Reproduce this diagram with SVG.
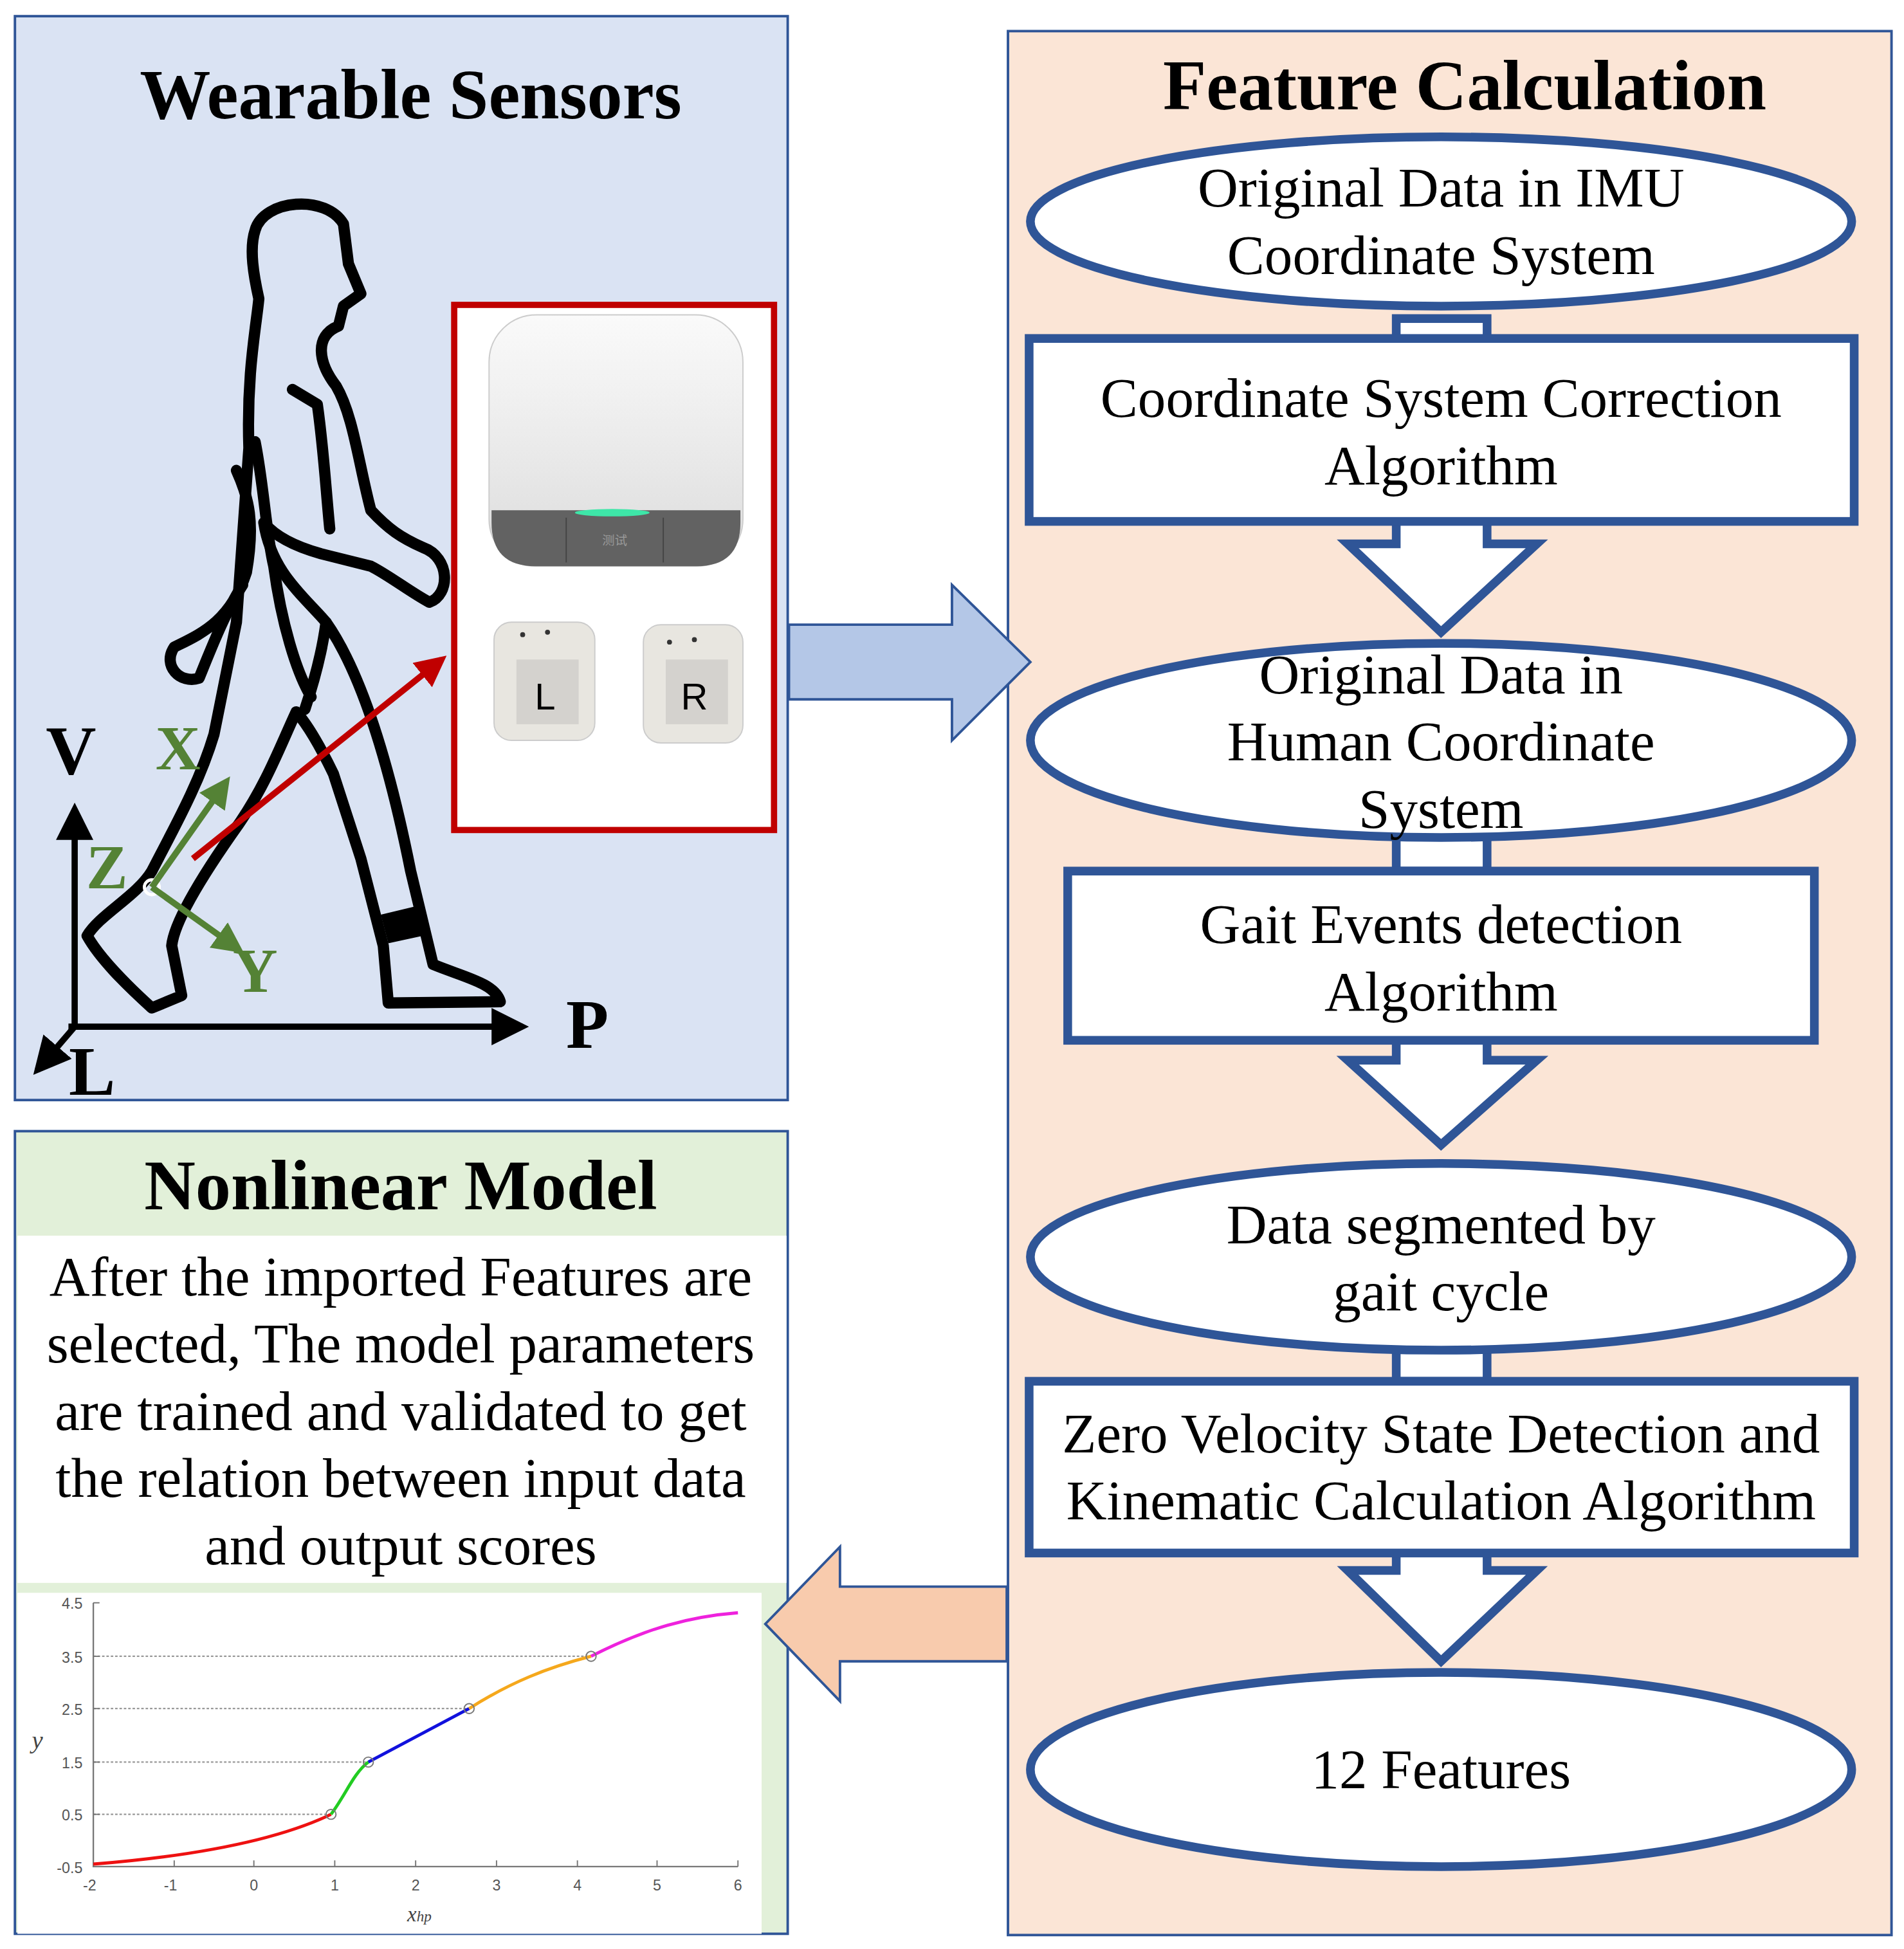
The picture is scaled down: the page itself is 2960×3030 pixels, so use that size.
<svg xmlns="http://www.w3.org/2000/svg" width="2960" height="3030" viewBox="0 0 2960 3030">
<defs>
<style>
.t{font-family:"Liberation Serif","Times New Roman",serif;fill:#000;text-anchor:middle}
.h{font-weight:bold;font-size:57px}
.b{font-size:45px}
.n{font-size:45px}
.fl{fill:#fff;stroke:#2f5597;stroke-width:7}
.ax{font-family:"Liberation Sans",Arial,sans-serif;font-size:12px;fill:#555;text-anchor:middle}
.grid{stroke:#999;stroke-width:1.2;stroke-dasharray:2 1.5}
</style>
<marker id="ab" markerWidth="6" markerHeight="6" refX="5" refY="3" orient="auto" markerUnits="strokeWidth"><path d="M0,0 L6,3 L0,6 z" fill="#000"/></marker>
<marker id="ag" markerWidth="5" markerHeight="5" refX="4" refY="2.5" orient="auto" markerUnits="strokeWidth"><path d="M0,0 L5,2.5 L0,5 z" fill="#548235"/></marker>
<marker id="ar" markerWidth="5" markerHeight="5" refX="4" refY="2.5" orient="auto" markerUnits="strokeWidth"><path d="M0,0 L5,2.5 L0,5 z" fill="#c00000"/></marker>
<linearGradient id="dev" x1="0" y1="0" x2="0" y2="1"><stop offset="0" stop-color="#fafafa"/><stop offset="1" stop-color="#dcdcdc"/></linearGradient>
</defs>
<rect width="2960" height="3030" fill="#fff"/>
<g transform="scale(1.9346)">
<g id="wearable">
<rect x="12" y="13" width="621" height="871" fill="#dae3f3" stroke="#2f5597" stroke-width="2"/>
<text class="t h" x="330" y="95">Wearable Sensors</text>
<g fill="none" stroke="#000" stroke-width="9" stroke-linejoin="round" stroke-linecap="round">
<path d="M205,185 C212,160 262,156 276,180 L280,212 L290,236 L276,246 L272,262 C252,270 256,292 270,310 C284,334 288,372 298,410 C312,425 322,432 340,440 C362,448 362,478 345,484 C330,476 312,462 298,455 L258,445 C240,440 222,432 212,420 C218,460 245,480 262,500 C290,540 312,610 330,700 L348,775 C372,785 398,790 402,805 L312,806 L308,760 L290,690 L268,622 C255,595 245,580 238,572 C225,600 214,630 192,662 C165,700 140,740 138,760 L146,800 L122,810 C100,790 80,770 70,752 C80,735 110,720 122,700 C140,665 160,630 172,590 L190,500 L195,430 L200,360 C198,300 206,262 208,240 C204,222 200,200 205,185 Z"/>
<path d="M205,355 C212,390 214,430 220,455 C226,500 238,540 250,560"/>
<path d="M190,378 C200,400 205,420 198,460 C185,500 160,510 140,520 C130,535 145,550 160,545 C170,520 182,490 195,470"/>
<path d="M235,313 L255,325 C260,360 262,395 265,425"/>
<path d="M262,500 C258,530 250,555 245,570"/>
</g>
<path d="M306,735 L335,728 L340,752 L312,758 Z" fill="#000"/>
<line x1="60" y1="825" x2="60" y2="650" stroke="#000" stroke-width="5" marker-end="url(#ab)"/>
<line x1="55" y1="825" x2="420" y2="825" stroke="#000" stroke-width="5" marker-end="url(#ab)"/>
<line x1="60" y1="825" x2="30" y2="860" stroke="#000" stroke-width="5" marker-end="url(#ab)"/>
<text class="t" style="font-weight:bold;font-size:56px" x="57" y="622">V</text>
<text class="t" style="font-weight:bold;font-size:56px" x="472" y="842">P</text>
<text class="t" style="font-weight:bold;font-size:56px" x="74" y="880">L</text>
<circle cx="122" cy="713" r="6" fill="none" stroke="#fff" stroke-width="2.5"/>
<line x1="122" y1="713" x2="182" y2="628" stroke="#548235" stroke-width="5" marker-end="url(#ag)"/>
<line x1="122" y1="713" x2="192" y2="763" stroke="#548235" stroke-width="5" marker-end="url(#ag)"/>
<g class="t" style="font-weight:bold;font-size:50px">
<text x="143" y="618" style="fill:#548235">X</text>
<text x="86" y="714" style="fill:#548235">Z</text>
<text x="205" y="797" style="fill:#548235">Y</text>
</g>
<line x1="155" y1="690" x2="355" y2="530" stroke="#c00000" stroke-width="5" marker-end="url(#ar)"/>
</g>
<g id="sensors">
<rect x="365" y="245" width="257" height="422" fill="#fff" stroke="#c00000" stroke-width="5"/>
<rect x="393" y="253" width="204" height="202" rx="38" fill="url(#dev)" stroke="#ccc" stroke-width="1"/>
<path d="M395,410 L595,410 L595,420 Q595,455 560,455 L430,455 Q395,455 395,420 Z" fill="#626262"/>
<line x1="455" y1="416" x2="455" y2="452" stroke="#444" stroke-width="1"/>
<line x1="533" y1="416" x2="533" y2="452" stroke="#444" stroke-width="1"/>
<ellipse cx="492" cy="412" rx="30" ry="3" fill="#3ee6a8"/>
<text x="494" y="438" style="font-family:'Noto Sans CJK SC',sans-serif;font-size:10px;fill:#999" text-anchor="middle">测试</text>
<rect x="397" y="500" width="81" height="95" rx="14" fill="#e8e6e0" stroke="#ccc"/>
<rect x="415" y="530" width="50" height="52" fill="#d4d2ce"/>
<circle cx="420" cy="510" r="2" fill="#333"/><circle cx="440" cy="508" r="2" fill="#333"/>
<text x="438" y="570" style="font-family:'Liberation Sans',Arial,sans-serif;font-size:30px" text-anchor="middle">L</text>
<rect x="517" y="502" width="80" height="95" rx="14" fill="#e8e6e0" stroke="#ccc"/>
<rect x="535" y="530" width="50" height="52" fill="#d4d2ce"/>
<circle cx="538" cy="516" r="2" fill="#333"/><circle cx="558" cy="514" r="2" fill="#333"/>
<text x="558" y="570" style="font-family:'Liberation Sans',Arial,sans-serif;font-size:30px" text-anchor="middle">R</text>
</g>
<g id="feature">
<rect x="810" y="25" width="710" height="1530" fill="#fbe5d6" stroke="#2f5597" stroke-width="2"/>
<text class="t h" x="1177" y="88">Feature Calculation</text>
</g>
<g id="flow-connectors">
<rect class="fl" x="1122" y="256" width="73" height="18"/>
<rect class="fl" x="1122" y="672" width="73" height="28"/>
<rect class="fl" x="1122" y="1084" width="73" height="26"/>
<path class="fl" d="M1122,419 L1122,437 L1083,437 L1158,508 L1235,437 L1195,437 L1195,419"/>
<path class="fl" d="M1122,836 L1122,852 L1083,852 L1158,920 L1235,852 L1195,852 L1195,836"/>
<path class="fl" d="M1122,1248 L1122,1262 L1083,1262 L1158,1335 L1235,1262 L1195,1262 L1195,1248"/>
</g>
<g id="n1"><ellipse class="fl" cx="1158" cy="178" rx="330" ry="68"/>
<text class="t b" x="1158" y="166">Original Data in IMU</text><text class="t b" x="1158" y="220">Coordinate System</text></g>
<g id="n2"><rect class="fl" x="827" y="272" width="663" height="147"/>
<text class="t b" x="1158" y="335">Coordinate System Correction</text><text class="t b" x="1158" y="389">Algorithm</text></g>
<g id="n3"><ellipse class="fl" cx="1158" cy="595" rx="330" ry="78"/>
<text class="t b" x="1158" y="557">Original Data in</text><text class="t b" x="1158" y="611">Human Coordinate</text><text class="t b" x="1158" y="665">System</text></g>
<g id="n4"><rect class="fl" x="858" y="700" width="600" height="136"/>
<text class="t b" x="1158" y="758">Gait Events detection</text><text class="t b" x="1158" y="812">Algorithm</text></g>
<g id="n5"><ellipse class="fl" cx="1158" cy="1010" rx="330" ry="75"/>
<text class="t b" x="1158" y="999">Data segmented by</text><text class="t b" x="1158" y="1053">gait cycle</text></g>
<g id="n6"><rect class="fl" x="827" y="1110" width="663" height="138"/>
<text class="t b" x="1158" y="1167">Zero Velocity State Detection and</text><text class="t b" x="1158" y="1221">Kinematic Calculation Algorithm</text></g>
<g id="n7"><ellipse class="fl" cx="1158" cy="1422" rx="330" ry="78"/>
<text class="t b" x="1158" y="1437">12 Features</text></g>
<g id="nonlinear">
<rect x="12" y="909" width="621" height="645" fill="#e2f0d9" stroke="#2f5597" stroke-width="2"/>
<rect x="14" y="993" width="618" height="279" fill="#fff"/>
<text class="t h" x="322" y="972">Nonlinear Model</text>
<text class="t n" x="322" y="1041">After the imported Features are</text>
<text class="t n" x="322" y="1095">selected, The model parameters</text>
<text class="t n" x="322" y="1149">are trained and validated to get</text>
<text class="t n" x="322" y="1203">the relation between input data</text>
<text class="t n" x="322" y="1257">and output scores</text>
<rect x="14" y="1280" width="598" height="274" fill="#fff"/>
<line class="grid" x1="75" y1="1458" x2="266" y2="1458"/>
<line class="grid" x1="75" y1="1416" x2="296" y2="1416"/>
<line class="grid" x1="75" y1="1373" x2="377" y2="1373"/>
<line class="grid" x1="75" y1="1331" x2="475" y2="1331"/>
<path d="M75,1288 L75,1500 L593,1500" fill="none" stroke="#777" stroke-width="1.2"/>
<g stroke="#777" stroke-width="1">
<line x1="75" y1="1288" x2="80" y2="1288"/><line x1="75" y1="1331" x2="80" y2="1331"/><line x1="75" y1="1373" x2="80" y2="1373"/><line x1="75" y1="1416" x2="80" y2="1416"/><line x1="75" y1="1458" x2="80" y2="1458"/>
<line x1="140" y1="1500" x2="140" y2="1495"/><line x1="204" y1="1500" x2="204" y2="1495"/><line x1="269" y1="1500" x2="269" y2="1495"/><line x1="334" y1="1500" x2="334" y2="1495"/><line x1="399" y1="1500" x2="399" y2="1495"/><line x1="464" y1="1500" x2="464" y2="1495"/><line x1="528" y1="1500" x2="528" y2="1495"/><line x1="593" y1="1500" x2="593" y2="1495"/>
</g>
<g class="ax">
<text x="58" y="1293">4.5</text><text x="58" y="1336">3.5</text><text x="58" y="1378">2.5</text><text x="58" y="1421">1.5</text><text x="58" y="1463">0.5</text><text x="56" y="1505">-0.5</text>
<text x="72" y="1519">-2</text><text x="137" y="1519">-1</text><text x="204" y="1519">0</text><text x="269" y="1519">1</text><text x="334" y="1519">2</text><text x="399" y="1519">3</text><text x="464" y="1519">4</text><text x="528" y="1519">5</text><text x="593" y="1519">6</text>
</g>
<text x="30" y="1405" style="font-family:'Liberation Serif',serif;font-style:italic;font-size:20px;fill:#444" text-anchor="middle">y</text>
<text x="337" y="1544" style="font-family:'Liberation Serif',serif;font-style:italic;font-size:17px;fill:#444" text-anchor="middle">x<tspan font-size="12">hp</tspan></text>
<g fill="none" stroke-width="2.5">
<path d="M75,1498 C150,1492 220,1480 266,1458" stroke="#ee1111"/>
<path d="M266,1458 C278,1442 284,1425 296,1416" stroke="#22cc22"/>
<path d="M296,1416 L377,1373" stroke="#1111dd"/>
<path d="M377,1373 C410,1352 440,1340 475,1331" stroke="#f5a81c"/>
<path d="M475,1331 C520,1308 555,1299 593,1296" stroke="#ee22dd"/>
</g>
<g fill="none" stroke="#777" stroke-width="1"><circle cx="266" cy="1458" r="4"/><circle cx="296" cy="1416" r="4"/><circle cx="377" cy="1373" r="4"/><circle cx="475" cy="1331" r="4"/></g>
</g>
<g id="connectors">
<path d="M634,502 L765,502 L765,470 L828,532 L765,595 L765,562 L634,562 Z" fill="#b4c7e7" stroke="#2f5597" stroke-width="2"/>
<path d="M809,1275 L675,1275 L675,1243 L615,1305 L675,1367 L675,1335 L809,1335 Z" fill="#f8cbad" stroke="#2f5597" stroke-width="2"/>
</g>
</g>
</svg>
